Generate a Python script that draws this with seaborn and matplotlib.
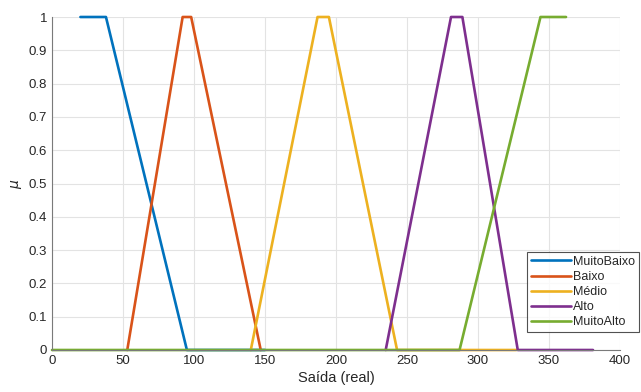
import numpy as np
import pandas as pd
import matplotlib
matplotlib.use("Agg")
import matplotlib.pyplot as plt
import seaborn as sns

# membership functions (trapezoids)
names = ["MuitoBaixo", "Baixo", "Médio", "Alto", "MuitoAlto"]
x_muitobaixo = [20, 38, 95, 150]
y_muitobaixo = [1, 1, 0, 0]
x_baixo = [53, 92, 98, 147]
y_baixo = [0, 1, 1, 0]
x_medio = [140, 187, 195, 243, 327]
y_medio = [0, 1, 1, 0, 0]
x_alto = [235, 281, 289, 328, 381]
y_alto = [0, 1, 1, 0, 0]
x_muitoalto = [0, 287, 344, 362]
y_muitoalto = [0, 0, 1, 1]

colors = ["#0072BD", "#D95319", "#EDB120", "#7E2F8E", "#77AC30"]

xs = [x_muitobaixo, x_baixo, x_medio, x_alto, x_muitoalto]
ys = [y_muitobaixo, y_baixo, y_medio, y_alto, y_muitoalto]
frames = []
for n, xv, yv in zip(names, xs, ys):
    frames.append(pd.DataFrame({"mf": n, "x": xv, "y": yv}))
df = pd.concat(frames, ignore_index=True)

sns.set_style("white")
plt.rcParams['font.family'] = ['Liberation Sans', 'DejaVu Sans']

fig = plt.figure(figsize=(6.41, 3.92), dpi=100)
ax = fig.add_axes([52 / 641, 1 - 350 / 392, 568 / 641, 333 / 392])

sns.lineplot(data=df, x="x", y="y", hue="mf", hue_order=names, palette=colors,
             sort=False, estimator=None, units="mf", linewidth=1.9, legend=False, ax=ax)
for ln in ax.get_lines():
    ln.set_clip_on(False)

ax.set_xlim(0, 400)
ax.set_ylim(0, 1)
ax.set_xticks(np.arange(0, 401, 50))
ax.set_yticks(np.arange(0, 1.01, 0.1))
ax.set_yticklabels(["0", "0.1", "0.2", "0.3", "0.4", "0.5", "0.6", "0.7", "0.8", "0.9", "1"])
ax.grid(True, color="#e3e3e3", linewidth=0.8)
ax.set_axisbelow(True)
for s in ["top", "right"]:
    ax.spines[s].set_visible(False)
for s in ["left", "bottom"]:
    ax.spines[s].set_color("#7a7a7a")
    ax.spines[s].set_linewidth(0.8)
ax.tick_params(direction="in", length=4, width=0.8, color="#7a7a7a",
               labelsize=9.5, labelcolor="#262626")
ax.set_xlabel("Saída (real)", fontsize=10.5, color="#262626", labelpad=3)
ax.set_ylabel(r"$\mu$", fontsize=10, color="#262626", labelpad=3)

leg = ax.legend(ax.get_lines()[:5], names, loc="lower right",
                bbox_to_anchor=(639 / 641, 1 - 332 / 392), bbox_transform=fig.transFigure,
                fontsize=9, frameon=True, fancybox=False, borderpad=0.3,
                labelspacing=0.25, handlelength=3.2, handletextpad=0.2,
                borderaxespad=0)
leg.get_frame().set_edgecolor("#262626")
leg.get_frame().set_linewidth(0.8)

fig.savefig("out.png", dpi=100)
